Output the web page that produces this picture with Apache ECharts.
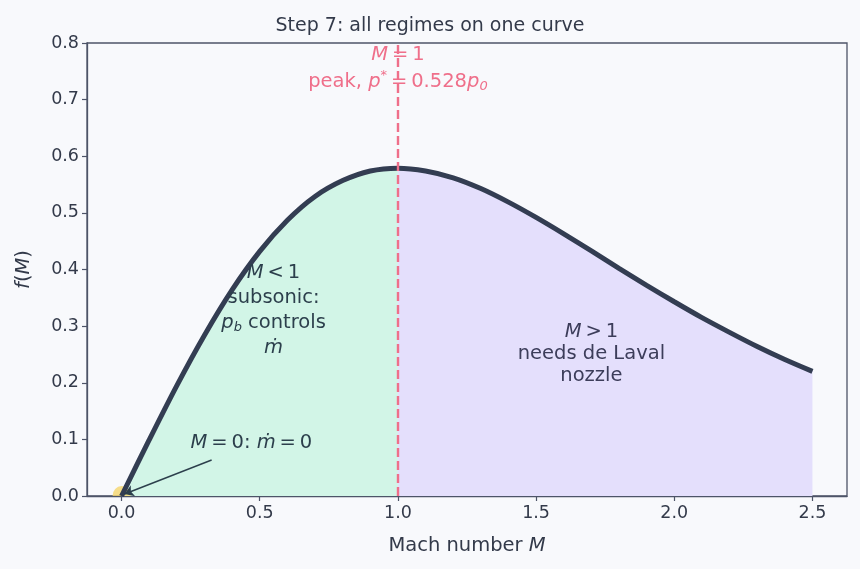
<!DOCTYPE html>
<html>
<head>
<meta charset="utf-8">
<script src="https://cdn.jsdelivr.net/npm/echarts@6/dist/echarts.min.js"></script>
<style>
  html, body { margin: 0; padding: 0; background: #f8f9fc; }
  #chart { width: 860px; height: 569px; }
</style>
</head>
<body>
<div id="chart"></div>
<script>
// Mach numbers and mass-flow function values
const machSub = [0.0, 0.1, 0.2, 0.3, 0.4, 0.5, 0.6, 0.7, 0.8, 0.9, 1.0];
const flowSub = [0.0, 0.099, 0.195, 0.284, 0.364, 0.432, 0.487, 0.529, 0.557, 0.574, 0.579];
const machSup = [1.0, 1.1, 1.2, 1.3, 1.4, 1.5, 1.6, 1.7, 1.8, 1.9, 2.0, 2.1, 2.2, 2.3, 2.4, 2.5];
const flowSup = [0.579, 0.574, 0.562, 0.543, 0.519, 0.492, 0.463, 0.433, 0.402, 0.372, 0.343, 0.315, 0.289, 0.264, 0.241, 0.220];
const xTicks = [0, 0.5, 1.0, 1.5, 2.0, 2.5];

const INK = '#333d52';
const AXIS = '#4d5468';
const TEXT = '#333a4a';
const PINK = '#ef6f8a';
const FONT = 'DejaVu Sans';
const FS = 19.5;
const T = '\u2009'; // thin space, closer to mathtext spacing around operators

const pairs = (xs, ys) => xs.map((x, i) => [x, ys[i]]);
const subData = pairs(machSub, flowSub);
const supData = pairs(machSup, flowSup);
const allData = subData.concat(supData.slice(1));

const chart = echarts.init(document.getElementById('chart'));

const richFor = (color) => ({
    i: { fontStyle: 'italic', fontFamily: FONT, fontSize: FS, color: color },
    s: { fontFamily: FONT, fontSize: 13, color: color, padding: [0, 0, 12, 0] },
    b: { fontStyle: 'italic', fontFamily: FONT, fontSize: 13, color: color, padding: [10, 0, 0, 0] }
});

const textPoint = (coord, text, color, lineHeight) => ({
    coord: coord,
    symbol: 'circle',
    symbolSize: 0,
    label: {
        show: true,
        position: 'inside',
        formatter: text,
        color: color,
        fontFamily: FONT,
        fontSize: FS,
        lineHeight: lineHeight || 24,
        align: 'center',
        rich: richFor(color)
    }
});

const axisName = {
    n: { fontFamily: FONT, fontSize: FS, color: TEXT },
    i: { fontFamily: FONT, fontSize: FS, fontStyle: 'italic', color: TEXT }
};

const option = {
    backgroundColor: '#f8f9fc',
    animation: false,
    title: {
        text: 'Step 7: all regimes on one curve',
        left: 'center',
        top: 12,
        textStyle: { fontFamily: FONT, fontSize: 19, fontWeight: 'normal', color: TEXT }
    },
    grid: { left: 87, right: 13, top: 43, bottom: 73, show: true, borderColor: AXIS, borderWidth: 1.3, backgroundColor: 'transparent' },
    xAxis: {
        type: 'value',
        min: -0.125,
        max: 2.625,
        name: '{n|Mach number }{i|M}',
        nameLocation: 'middle',
        nameGap: 40,
        nameTextStyle: { rich: axisName },
        axisLine: { show: true, onZero: false, lineStyle: { color: AXIS, width: 1.3 } },
        axisTick: { show: true, customValues: xTicks, length: 5, lineStyle: { color: AXIS, width: 1.2 } },
        axisLabel: { customValues: xTicks, formatter: v => v.toFixed(1), fontFamily: FONT, fontSize: 17.5, color: TEXT, margin: 8 },
        splitLine: { show: false }
    },
    yAxis: {
        type: 'value',
        min: 0,
        max: 0.8,
        interval: 0.1,
        name: '{i|f}{n|(}{i|M}{n|)}',
        nameLocation: 'middle',
        nameGap: 53,
        nameTextStyle: { rich: axisName },
        axisLine: { show: true, onZero: false, lineStyle: { color: AXIS, width: 1.3 } },
        axisTick: { show: true, length: 5, lineStyle: { color: AXIS, width: 1.2 } },
        axisLabel: { formatter: v => v.toFixed(1), fontFamily: FONT, fontSize: 17.5, color: TEXT, margin: 8 },
        splitLine: { show: false }
    },
    series: [
        {
            name: 'subsonic',
            type: 'line',
            data: subData,
            smooth: 0.3,
            showSymbol: false,
            lineStyle: { width: 0 },
            areaStyle: { color: '#d2f5e7', opacity: 1 },
            z: 1
        },
        {
            name: 'supersonic',
            type: 'line',
            data: supData,
            smooth: 0.3,
            showSymbol: false,
            lineStyle: { width: 1, color: '#cdc6f6' },
            areaStyle: { color: '#e4dffc', opacity: 1 },
            z: 1,
            markPoint: {
                silent: true,
                data: [
                    textPoint([0.55, 0.3285], '{i|M}' + T + '<' + T + '1\nsubsonic:\n{i|p}{b|b} controls\n{i|ṁ}', '#2c3f4c', 25),
                    textPoint([1.70, 0.251], '{i|M}' + T + '>' + T + '1\nneeds de Laval\nnozzle', '#3c3d5a', 22),
                    textPoint([0.47, 0.094], '{i|M}' + T + '=' + T + '0: {i|ṁ}' + T + '=' + T + '0', '#2c3f4c'),
                    textPoint([1.0, 0.779], '{i|M}' + T + '=' + T + '1', PINK),
                    textPoint([1.0, 0.731], 'peak, {i|p}{s|*}' + T + '=' + T + '0.528{i|p}{b|0}', PINK)
                ]
            }
        },
        {
            name: 'f(M)',
            type: 'line',
            data: allData,
            smooth: 0.3,
            showSymbol: false,
            lineStyle: { width: 5, color: INK },
            z: 3,
            markLine: {
                silent: true,
                symbol: ['none', 'none'],
                label: { show: false },
                lineStyle: { color: PINK, width: 2.4, type: [9, 4] },
                data: [{ xAxis: 1.0 }]
            }
        },
        {
            name: 'origin',
            type: 'scatter',
            data: [[0, 0]],
            symbol: 'path://M0,10 A10,10 0 0 1 20,10 Z',
            symbolSize: [18, 10],
            symbolOffset: [0, '-50%'],
            itemStyle: { color: '#f5d66c' },
            z: 2.5,
            markLine: {
                silent: true,
                symbol: ['none', 'arrow'],
                symbolSize: 9,
                label: { show: false },
                lineStyle: { color: '#2c3f4c', width: 1.4, type: 'solid' },
                data: [[{ coord: [0.326, 0.0636] }, { coord: [0.011, 0.0035] }]]
            }
        }
    ]
};

chart.setOption(option);
</script>
</body>
</html>
